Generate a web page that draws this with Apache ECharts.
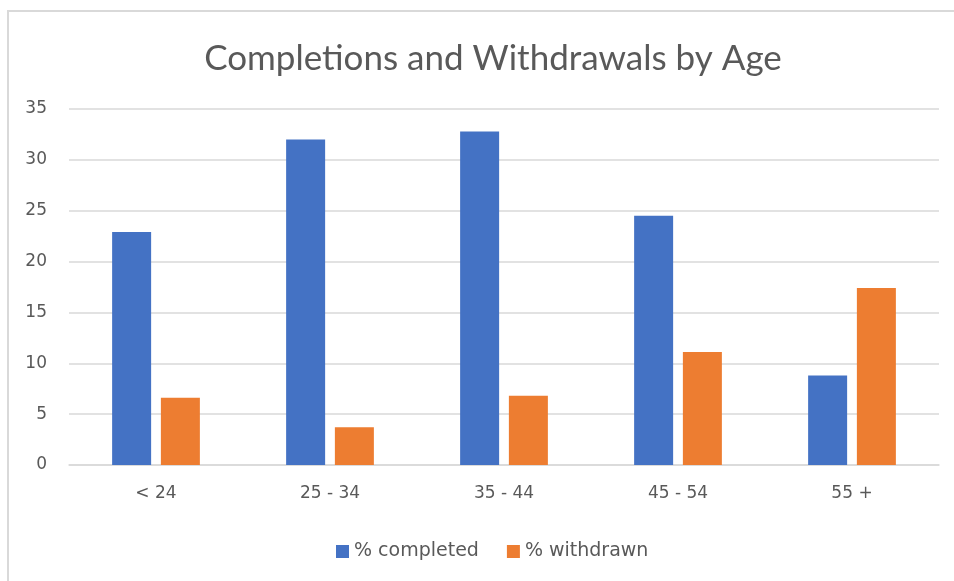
<!DOCTYPE html>
<html>
<head>
<meta charset="utf-8">
<script src="https://cdn.jsdelivr.net/npm/echarts@6/dist/echarts.min.js"></script>
<style>
  html, body { margin: 0; padding: 0; background: #fff; }
  #chart { width: 954px; height: 581px; }
</style>
</head>
<body>
<div id="chart"></div>
<script>
const ageGroups = ["< 24", "25 - 34", "35 - 44", "45 - 54", "55 +"];
const completed = [22.9, 32.0, 32.8, 24.5, 8.8];
const withdrawn = [6.6, 3.7, 6.8, 11.1, 17.4];
const seriesNames = ["% completed", "% withdrawn"];

const chart = echarts.init(document.getElementById("chart"));

const textColor = "#595959";
const titleFont = "Lato, 'Open Sans', sans-serif";
const labelFont = "'DejaVu Sans', Verdana, sans-serif";

const option = {
  animation: false,
  color: ["#4472C4", "#ED7D31"],
  title: {
    text: "Completions and Withdrawals by Age",
    left: 488,
    textAlign: "center",
    top: 36,
    textStyle: { color: textColor, fontWeight: "normal", fontFamily: titleFont, fontSize: 35 }
  },
  legend: {
    top: 537,
    left: 331,
    itemWidth: 13,
    itemHeight: 13,
    itemGap: 28,
    icon: "rect",
    textStyle: { color: textColor, fontFamily: labelFont, fontSize: 19 },
    data: seriesNames
  },
  grid: { left: 69, right: 15, top: 109, bottom: 116 },
  xAxis: {
    type: "category",
    data: ageGroups,
    axisTick: { show: false },
    axisLine: { lineStyle: { color: "#d9d9d9", width: 1.5 } },
    axisLabel: { color: textColor, fontFamily: labelFont, fontSize: 17, margin: 20 }
  },
  yAxis: {
    type: "value",
    min: 0,
    max: 35,
    interval: 5,
    axisLabel: { color: textColor, fontFamily: labelFont, fontSize: 17, margin: 22 },
    splitLine: { lineStyle: { color: "#d9d9d9", width: 1.5 } }
  },
  series: [
    { name: seriesNames[0], type: "bar", data: completed, barWidth: 39, barGap: "25%" },
    { name: seriesNames[1], type: "bar", data: withdrawn, barWidth: 39, barGap: "25%" }
  ],
  graphic: [
    { type: "line", shape: { x1: 7, y1: 11, x2: 954, y2: 11 }, style: { stroke: "#d9d9d9", lineWidth: 2 } },
    { type: "line", shape: { x1: 8, y1: 11, x2: 8, y2: 581 }, style: { stroke: "#d9d9d9", lineWidth: 2 } }
  ]
};

chart.setOption(option);
</script>
</body>
</html>
